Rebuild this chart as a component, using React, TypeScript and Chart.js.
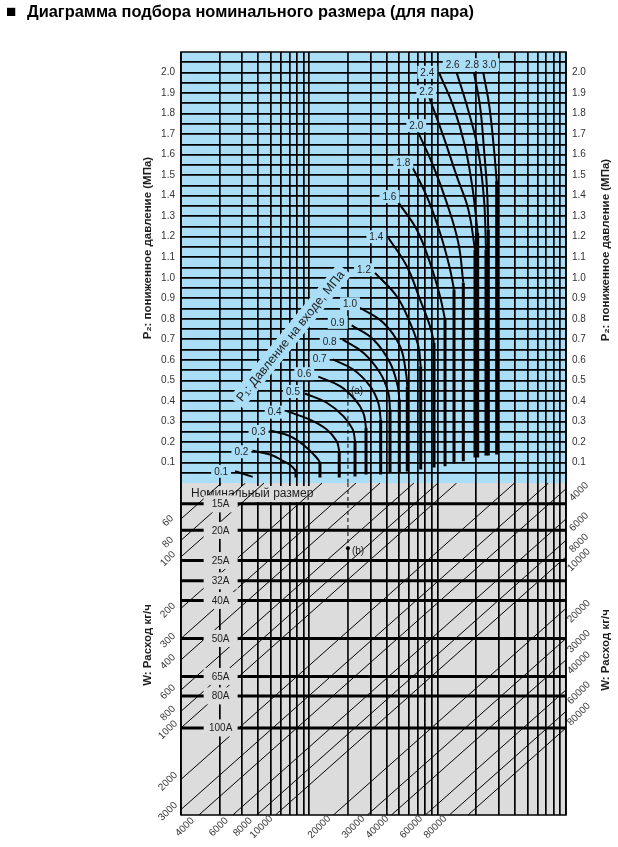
import React, { useEffect, useRef } from 'react';
import { Chart, registerables } from 'chart.js';

Chart.register(...registerables);

// ---------------- text ----------------
const TITLE = 'Диаграмма подбора номинального размера (для пара)';
const P2_TITLE = 'P₂: пониженное давление (МПа)';
const W_TITLE = 'W: Расход кг/ч';
const P1_TITLE = 'P₁: Давление на входе, МПа';
const SIZE_HEADER = 'Номинальный размер';

// ---------------- grid / axes ----------------
const gridX = [1, 2, 3, 4, 5, 6, 7, 8, 9, 10, 20, 30, 40, 50, 60, 70, 80, 90, 100, 200, 300, 400, 500, 600, 700, 800, 900, 1000];
const p2Grid = [0.05, 0.1, 0.15, 0.2, 0.25, 0.3, 0.35, 0.4, 0.45, 0.5, 0.55, 0.6, 0.65, 0.7, 0.75, 0.8, 0.85, 0.9, 0.95, 1.0, 1.05, 1.1, 1.15, 1.2, 1.25, 1.3, 1.35, 1.4, 1.45, 1.5, 1.55, 1.6, 1.65, 1.7, 1.75, 1.8, 1.85, 1.9, 1.95, 2.0, 2.05];
const p2Ticks = [0.1, 0.2, 0.3, 0.4, 0.5, 0.6, 0.7, 0.8, 0.9, 1.0, 1.1, 1.2, 1.3, 1.4, 1.5, 1.6, 1.7, 1.8, 1.9, 2.0];
const p2Max = 2.1;

// flow (W) axis: value of the diagonal met on the left edge
const flowAxisMin = 37;
const flowAxisMax = 3230;
const flowSpan = 100; // factor of W across the width
const leftFlowTicks = [60, 80, 100, 200, 300, 400, 600, 800, 1000, 2000, 3000];
const edgeFlowTicks = [4000, 6000, 8000, 10000, 20000, 30000, 40000, 60000, 80000];
const extraFlowLines = [100000];

// nominal sizes (level on the flow axis)
const sizeNames = ['15A', '20A', '25A', '32A', '40A', '50A', '65A', '80A', '100A'];
const sizeLevels = [49, 70, 105, 138, 180, 300, 500, 650, 1000];
const sizeLabelX = 2;

// P1 curves: x on the log grid, y = P2 (MPa)
const p1Labels = ['0.1', '0.2', '0.3', '0.4', '0.5', '0.6', '0.7', '0.8', '0.9', '1.0', '1.2', '1.4', '1.6', '1.8', '2.0', '2.2', '2.4', '2.6', '2.8', '3.0'];
const arcX = [
  [2.64, 3.62],
  [3.6, 4.94, 6.27, 7.29, 7.87],
  [4.9, 7.07, 9.54, 11.41, 12.1],
  [6.66, 10.1, 13.66, 16.35, 17.1],
  [9.25, 13.66, 18.4, 21.78, 22.7],
  [11.75, 17.34, 22.7, 26.34, 27.65],
  [15.21, 22.01, 29.71, 34.46, 35.97],
  [18.2, 26.34, 35.53, 41.25, 42.53],
  [21.39, 31.51, 42.53, 48.83, 50.25],
  [24.82, 37.7, 50.88, 56.66, 57.99],
  [32.49, 47.95, 60.87, 70.66, 73.76],
  [41.25, 57.38, 72.84, 87.15, 93.65],
  [49.5, 68.65, 87.15, 104.3, 114.1],
  [59.05, 82.13, 104.3, 123.2, 134.1],
  [70.66, 92.48, 117.6, 144.8, 158.4],
  [86.06, 110.7, 140.7, 173.3, 195.4],
  [103, 132.4, 163.3, 187.5, 205],
  [140.7, 172.4, 206.2, 229.7, 238],
  [191.9, 213.8, 229.7, 242.4, 248],
  [226.8, 252.6, 274.8, 288.4],
];
const arcP2 = [
  [0.057, 0.03],
  [0.157, 0.139, 0.107, 0.082, 0.057],
  [0.256, 0.228, 0.172, 0.123, 0.101],
  [0.35, 0.309, 0.261, 0.204, 0.155],
  [0.436, 0.391, 0.326, 0.261, 0.204],
  [0.518, 0.472, 0.407, 0.342, 0.269],
  [0.602, 0.553, 0.472, 0.391, 0.309],
  [0.699, 0.635, 0.537, 0.44, 0.358],
  [0.768, 0.699, 0.586, 0.472, 0.407],
  [0.854, 0.781, 0.667, 0.537, 0.472],
  [1.024, 0.91, 0.781, 0.667, 0.569],
  [1.195, 1.057, 0.894, 0.764, 0.683],
  [1.366, 1.235, 1.073, 0.91, 0.797],
  [1.577, 1.398, 1.219, 1.057, 0.943],
  [1.707, 1.544, 1.366, 1.171, 0.976],
  [1.877, 1.69, 1.495, 1.333, 1.138],
  [1.996, 1.836, 1.641, 1.43, 1.219],
  [1.999, 1.82, 1.625, 1.382, 1.138],
  [1.999, 1.836, 1.625, 1.43, 1.235],
  [1.999, 1.836, 1.625, 1.471],
];
const tailP2 = [0.03, 0.027, 0.027, 0.027, 0.032, 0.041, 0.041, 0.051, 0.053, 0.056, 0.066, 0.076, 0.082, 0.095, 0.106, 0.124, 0.124, 0.134, 0.134, 0.139];

// worked example (a) -> (b)
const exampleX = 20;
const exampleP2 = 0.43;
const exampleFlow = 89;

// ---------------- styles ----------------
const BLUE = '#aadef7';
const GREY = '#dcdcdd';
const INK = '#000000';
const TXT = '#1e1e1e';
const FONT = '"Liberation Sans", Arial, Helvetica, sans-serif';
// label offsets (px) relative to the first point of each curve
const labelOffset: [number, number][] = [
  [-14, 0], [-11, 1], [-11, 1], [-12, 1], [-12, -2], [-14, -3], [-13, -1], [-13, 2], [-14, -3], [-10, -4],
  [-11, -3], [-12, -1], [-9, -6], [-5, 3], [-2, -7], [-3, -6], [-12, -1], [-4, -8], [-2, -8], [6, -8],
];

export default function App() {
  const ref = useRef<HTMLCanvasElement>(null);

  useEffect(() => {
    const canvas = ref.current;
    if (!canvas) return;

    const datasets: any[] = [];
    const base = { type: 'line', pointRadius: 0, fill: false, borderColor: INK, tension: 0 };

    // nominal size lines
    sizeLevels.forEach((lv) => {
      datasets.push({ ...base, xAxisID: 'x', yAxisID: 'w', borderWidth: 3, data: [{ x: 1, y: lv }, { x: 1000, y: lv }] });
    });

    // flow diagonals
    [...leftFlowTicks, ...edgeFlowTicks, ...extraFlowLines].forEach((W) => {
      const xa = Math.max(1, W / flowAxisMax);
      const xb = Math.min(flowSpan, W / flowAxisMin);
      if (xb <= xa) return;
      datasets.push({ ...base, xAxisID: 'xw', yAxisID: 'w', borderWidth: 1, borderColor: '#000', data: [{ x: xa, y: W / xa }, { x: xb, y: W / xb }] });
    });

    // example path
    datasets.push({ ...base, xAxisID: 'x', yAxisID: 'y', borderWidth: 1.6, data: [{ x: exampleX, y: p2Max }, { x: exampleX, y: exampleP2 }] });
    datasets.push({ ...base, xAxisID: 'x', yAxisID: 'y', borderWidth: 1, borderDash: [4, 3], data: [{ x: exampleX, y: exampleP2 }, { x: exampleX, y: 0 }] });
    datasets.push({ ...base, xAxisID: 'x', yAxisID: 'w', borderWidth: 1, borderDash: [4, 3], data: [{ x: exampleX, y: flowAxisMin }, { x: exampleX, y: exampleFlow }] });
    datasets.push({ ...base, xAxisID: 'x', yAxisID: 'w', borderWidth: 1.6, data: [{ x: exampleX, y: exampleFlow }, { x: exampleX, y: flowAxisMax }] });
    datasets.push({ ...base, xAxisID: 'x', yAxisID: 'w', showLine: false, pointRadius: 2, pointBackgroundColor: INK, pointBorderWidth: 0, data: [{ x: exampleX, y: exampleFlow }] });

    // P1 curves
    arcX.forEach((xs, i) => {
      const ys = arcP2[i];
      datasets.push({ ...base, xAxisID: 'x', yAxisID: 'y', borderWidth: 2, tension: 0.4, data: xs.map((x, j) => ({ x, y: ys[j] })) });
      const lx = xs[xs.length - 1];
      const ly = ys[ys.length - 1];
      if (tailP2[i] < ly) {
        datasets.push({ ...base, xAxisID: 'x', yAxisID: 'y', borderWidth: 3, borderCapStyle: 'butt', data: [{ x: lx, y: ly }, { x: lx, y: tailP2[i] }] });
      }
    });

    const setText = (ctx: CanvasRenderingContext2D, size: number, bold = false) => {
      ctx.font = `${bold ? 'bold ' : ''}${size}px ${FONT}`;
    };

    const drawPlugin = {
      id: 'nomogram',
      beforeDraw(chart: any) {
        const { ctx, chartArea: a, scales } = chart;
        ctx.save();
        ctx.fillStyle = BLUE;
        ctx.fillRect(a.left, scales.y.top, a.right - a.left, scales.y.bottom - scales.y.top);
        ctx.fillStyle = GREY;
        ctx.fillRect(a.left, scales.w.top, a.right - a.left, scales.w.bottom - scales.w.top);
        ctx.restore();
      },
      beforeDatasetsDraw(chart: any) {
        const { ctx, chartArea: a, scales } = chart;
        const { w } = scales;
        ctx.save();
        setText(ctx, 12);
        const tw = ctx.measureText(SIZE_HEADER).width;
        ctx.fillStyle = GREY;
        ctx.fillRect(a.left + 8, w.top + 3, tw + 4, 16);
        ctx.textAlign = 'left';
        ctx.textBaseline = 'middle';
        ctx.fillStyle = TXT;
        ctx.fillText(SIZE_HEADER, a.left + 10, w.top + 11);
        ctx.restore();
      },
      afterDatasetsDraw(chart: any) {
        const { ctx, scales } = chart;
        const { x, y, w } = scales;
        ctx.save();
        ctx.textAlign = 'center';
        ctx.textBaseline = 'middle';

        // nominal size labels
        setText(ctx, 10);
        sizeLevels.forEach((lv, i) => {
          const cx = x.getPixelForValue(sizeLabelX) + 1;
          const cy = w.getPixelForValue(lv);
          ctx.fillStyle = GREY;
          ctx.fillRect(cx - 17, cy - 8.5, 34, 17);
          ctx.fillStyle = TXT;
          ctx.fillText(sizeNames[i], cx, cy + 0.5);
        });

        // P1 labels
        setText(ctx, 10);
        ctx.textAlign = 'center';
        p1Labels.forEach((lab, i) => {
          const px = x.getPixelForValue(arcX[i][0]) + labelOffset[i][0];
          const py = y.getPixelForValue(arcP2[i][0]) + labelOffset[i][1];
          const tw = ctx.measureText(lab).width;
          ctx.fillStyle = BLUE;
          ctx.fillRect(px - tw / 2 - 3, py - 6.5, tw + 6, 13);
          ctx.fillStyle = TXT;
          ctx.fillText(lab, px, py + 0.5);
        });

        // rotated P1 title
        {
          const cx = x.getPixelForValue(7.13);
          const cy = y.getPixelForValue(0.716);
          ctx.translate(cx, cy);
          ctx.rotate(-51 * Math.PI / 180);
          setText(ctx, 12.5);
          const tw = ctx.measureText(P1_TITLE).width;
          ctx.fillStyle = BLUE;
          ctx.fillRect(-tw / 2 - 4, -9, tw + 8, 18);
          ctx.fillStyle = TXT;
          ctx.fillText(P1_TITLE, 0, 0.5);
          ctx.setTransform(1, 0, 0, 1, 0, 0);
        }

        // (a) (b)
        setText(ctx, 10);
        ctx.textAlign = 'left';
        ctx.fillStyle = TXT;
        ctx.fillText('(a)', x.getPixelForValue(exampleX) + 3, y.getPixelForValue(exampleP2) - 3);
        ctx.fillText('(b)', x.getPixelForValue(exampleX) + 4, w.getPixelForValue(exampleFlow) + 3);
        ctx.restore();
      },
      afterDraw(chart: any) {
        const { ctx, chartArea: a, scales } = chart;
        const { y, w, wR, xb } = scales;
        ctx.save();
        // frame
        ctx.strokeStyle = INK;
        ctx.lineWidth = 1.5;
        ctx.strokeRect(a.left, a.top, a.right - a.left, a.bottom - a.top);

        // P2 ticks
        setText(ctx, 10);
        ctx.fillStyle = '#333';
        ctx.textBaseline = 'middle';
        p2Ticks.forEach((v) => {
          const py = y.getPixelForValue(v);
          ctx.textAlign = 'right';
          ctx.fillText(v.toFixed(1), a.left - 6, py);
          ctx.textAlign = 'left';
          ctx.fillText(v.toFixed(1), a.right + 6, py);
        });

        // rotated flow ticks
        const rot = (s: string, cx: number, cy: number) => {
          ctx.save();
          ctx.translate(cx, cy);
          ctx.rotate(-Math.PI / 4);
          ctx.textAlign = 'center';
          ctx.textBaseline = 'middle';
          ctx.fillText(s, 0, 0);
          ctx.restore();
        };
        setText(ctx, 10);
        ctx.fillStyle = '#333';
        leftFlowTicks.forEach((v) => rot(String(v), a.left - 13, w.getPixelForValue(v) + 2));
        edgeFlowTicks.forEach((v) => rot(String(v), a.right + 13, wR.getPixelForValue(v) + 3));
        edgeFlowTicks.forEach((v) => rot(String(v), xb.getPixelForValue(v) - 14, a.bottom + 12));

        // axis titles (bottom-to-top)
        const vtitle = (s: string, cx: number, cy: number) => {
          ctx.save();
          ctx.translate(cx, cy);
          ctx.rotate(-Math.PI / 2);
          ctx.textAlign = 'center';
          ctx.textBaseline = 'middle';
          ctx.fillText(s, 0, 0);
          ctx.restore();
        };
        setText(ctx, 11.5, true);
        ctx.fillStyle = TXT;
        vtitle(P2_TITLE, a.left - 33, y.top + 196);
        vtitle(P2_TITLE, a.right + 40, y.top + 198);
        vtitle(W_TITLE, a.left - 33, w.top + 162);
        vtitle(W_TITLE, a.right + 40, w.top + 167);

        // main title
        ctx.textAlign = 'left';
        ctx.textBaseline = 'middle';
        ctx.fillStyle = '#000';
        setText(ctx, 17, true);
        ctx.fillText('■', 6, 12);
        setText(ctx, 16.4, true);
        ctx.fillText(TITLE, 27, 12);
        ctx.restore();
      },
    };

    const chart = new Chart(canvas, {
      type: 'line',
      data: { datasets },
      options: {
        responsive: false,
        animation: false,
        devicePixelRatio: 1,
        events: [],
        layout: { padding: { left: 181, right: 52, top: 52, bottom: 32 } },
        plugins: { legend: { display: false }, tooltip: { enabled: false }, title: { display: false } },
        scales: {
          x: {
            type: 'logarithmic', position: 'bottom', min: 1, max: 1000, weight: 0,
            afterBuildTicks: (s: any) => { s.ticks = gridX.map((v) => ({ value: v })); },
            ticks: { display: false },
            border: { display: false },
            grid: {
              color: (c: any) => (c.tick && c.tick.value === exampleX ? 'rgba(0,0,0,0)' : INK),
              lineWidth: 1.7, drawTicks: false,
            },
          },
          xw: { type: 'logarithmic', position: 'bottom', min: 1, max: flowSpan, display: false, weight: 1 },
          xb: { type: 'logarithmic', position: 'bottom', min: flowAxisMax, max: flowAxisMax * flowSpan, display: false, weight: 2 },
          y: {
            type: 'linear', position: 'left', stack: 'left', stackWeight: 431, weight: 1, min: 0, max: p2Max,
            afterBuildTicks: (s: any) => { s.ticks = p2Grid.map((v) => ({ value: v })); },
            ticks: { display: false },
            border: { display: false },
            grid: { color: INK, lineWidth: 1.7, drawTicks: false },
          },
          w: {
            type: 'logarithmic', position: 'left', stack: 'left', stackWeight: 332, weight: 0,
            min: flowAxisMin, max: flowAxisMax, reverse: true, display: false,
          },
          yR: { type: 'linear', position: 'right', stack: 'right', stackWeight: 431, weight: 0, min: 0, max: p2Max, display: false },
          wR: {
            type: 'logarithmic', position: 'right', stack: 'right', stackWeight: 332, weight: 1,
            min: flowAxisMin * flowSpan, max: flowAxisMax * flowSpan, reverse: true, display: false,
          },
        },
      } as any,
      plugins: [drawPlugin],
    } as any);

    return () => chart.destroy();
  }, []);

  return (
    <canvas
      ref={ref}
      width={618}
      height={847}
      style={{ position: 'absolute', left: 0, top: 0, width: 618, height: 847 }}
    />
  );
}
